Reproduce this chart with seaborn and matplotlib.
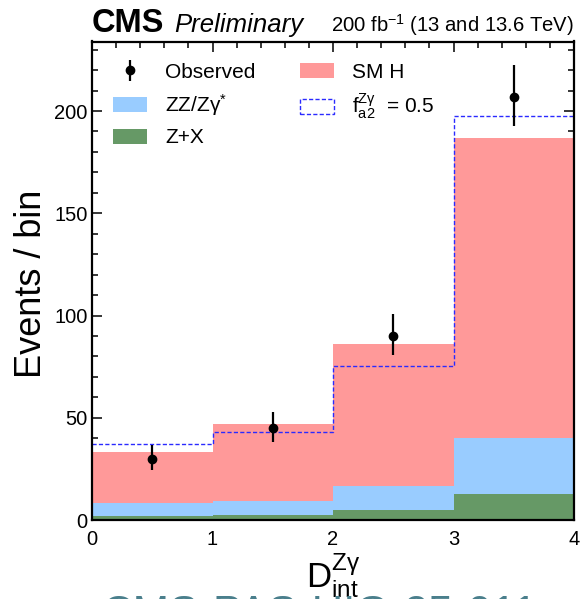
import numpy as np
import pandas as pd
import matplotlib
matplotlib.use("Agg")
import matplotlib.pyplot as plt
from matplotlib.patches import Patch
from matplotlib.ticker import MultipleLocator
import seaborn as sns

# Binning of the interference discriminant
bin_edges = [0, 1, 2, 3, 4]
bin_centers = [0.5, 1.5, 2.5, 3.5]

# Expected yields per bin
zx_yield = [2.0, 2.3, 5.0, 12.9]          # Z+X
zz_yield = [6.5, 7.0, 11.7, 27.1]         # ZZ/Zgamma*
smh_yield = [24.8, 37.6, 69.3, 147.0]     # SM H
fa2_total = [37.4, 43.1, 75.3, 197.5]     # f_a2^Zgamma = 0.5 hypothesis (total)

# Observed counts with asymmetric Poisson errors
obs = [30, 45, 90, 207]
obs_err_lo = [5.4, 6.7, 9.5, 14.4]
obs_err_hi = [6.5, 7.7, 10.5, 15.4]

process_names = ["SM H", "ZZ/Zγ*", "Z+X"]
process_colors = {"SM H": "#ff9999", "ZZ/Zγ*": "#99ccff", "Z+X": "#669966"}
fa2_color = "#2a2aff"
fa2_dash = (0, (3, 1.6))

sns.set_theme(style="ticks")
plt.rcParams["font.family"] = ["Liberation Sans", "DejaVu Sans"]
plt.rcParams["mathtext.fontset"] = "custom"
plt.rcParams["mathtext.rm"] = "Liberation Sans"
plt.rcParams["mathtext.it"] = "Liberation Sans"
plt.rcParams["mathtext.bf"] = "Liberation Sans:bold"
for key in ["text.color", "axes.labelcolor", "xtick.color", "ytick.color",
            "axes.edgecolor"]:
    plt.rcParams[key] = "black"

rows = []
for name, vals in zip(process_names, [smh_yield, zz_yield, zx_yield]):
    for c, v in zip(bin_centers, vals):
        rows.append({"x": c, "w": v, "process": name})
df = pd.DataFrame(rows)

fig = plt.figure(figsize=(5.84, 5.99), dpi=100)
ax = fig.add_axes([92 / 584, 1 - 520 / 599, (574 - 92) / 584, (520 - 41.5) / 599])

sns.histplot(data=df, x="x", weights="w", hue="process", hue_order=process_names,
             multiple="stack", bins=bin_edges, element="step", fill=True,
             palette=process_colors, alpha=1.0, linewidth=0, legend=False, ax=ax)

sns.histplot(x=bin_centers, weights=fa2_total, bins=bin_edges, element="step",
             fill=False, color=fa2_color, linewidth=1.0, linestyle=fa2_dash, ax=ax)

err = ax.errorbar(bin_centers, obs, yerr=[obs_err_lo, obs_err_hi], fmt="o",
                  color="black", markersize=6, elinewidth=1.6, capsize=0, zorder=5)

ax.set_xlim(0, 4)
ax.set_ylim(0, 234)
ax.xaxis.set_major_locator(MultipleLocator(1))
ax.xaxis.set_minor_locator(MultipleLocator(0.2))
ax.yaxis.set_major_locator(MultipleLocator(50))
ax.yaxis.set_minor_locator(MultipleLocator(10))
ax.tick_params(which="both", direction="in", top=True, right=True, width=1.1,
               labelsize=14.5)
ax.tick_params(which="major", length=7)
ax.tick_params(which="minor", length=4)
ax.tick_params(axis="x", pad=7)
ax.tick_params(axis="y", pad=3)
for s in ax.spines.values():
    s.set_linewidth(1.6)

ax.set_xlabel(r"$\mathrm{D}_{\mathrm{int}}^{\mathrm{Z\gamma}}$", fontsize=25, labelpad=2)
ax.set_ylabel("Events / bin", fontsize=26)
ax.yaxis.set_label_coords(-0.089, 0.494)

handles = [
    err,
    Patch(facecolor=process_colors["ZZ/Zγ*"], edgecolor="none"),
    Patch(facecolor=process_colors["Z+X"], edgecolor="none"),
    Patch(facecolor=process_colors["SM H"], edgecolor="none"),
    Patch(facecolor="white", edgecolor=fa2_color, linestyle=fa2_dash, linewidth=1.0),
]
labels = ["Observed", r"ZZ/Zγ$^{*}$", "Z+X", "SM H",
          r"$\mathrm{f}_{\mathrm{a2}}^{\mathrm{Z\gamma}}$  = 0.5"]
ax.legend(handles, labels, ncol=2, loc="upper left", bbox_to_anchor=(0.0055, 0.995),
          frameon=False, fontsize=15, handlelength=1.63, handleheight=0.72,
          labelspacing=0.5, columnspacing=2.1, handletextpad=0.87)

fig.text(92 / 584, 1 - 32 / 599, "CMS", fontsize=23.5, fontweight="bold", ha="left",
         va="baseline")
fig.text(174 / 584, 1 - 32 / 599, "Preliminary", fontsize=18.5, style="italic",
         ha="left", va="baseline")
fig.text(574 / 584, 1 - 32 / 599, r"200 fb$^{-1}$ (13 and 13.6 TeV)", fontsize=14.6,
         ha="right", va="baseline")

fig.text(102 / 584, 1 - 595 / 599, "CMS-PAS-HIG-25-011", fontsize=31.5,
         color="#4a7f8c", ha="left", va="top")

fig.savefig("out.png", dpi=100)
